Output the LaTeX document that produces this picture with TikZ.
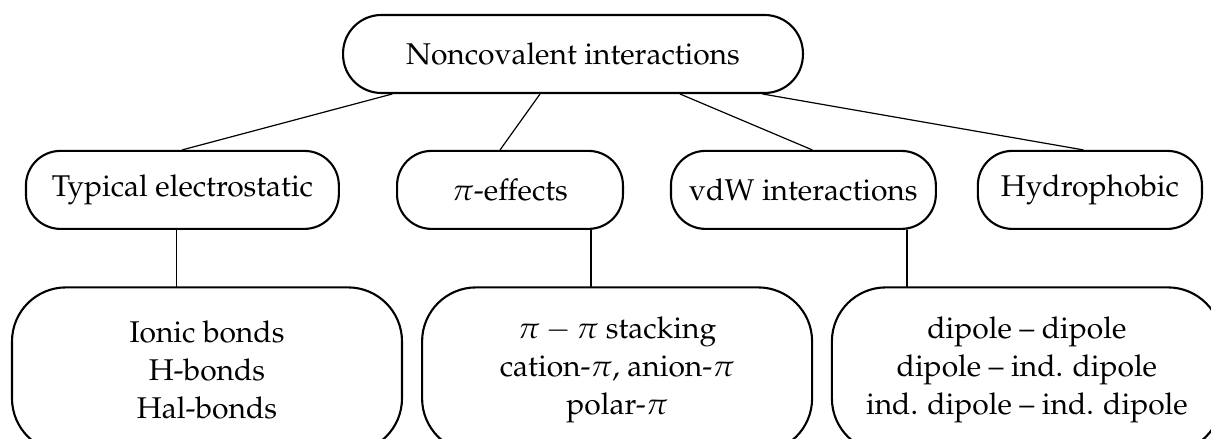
\documentclass[tikz,border=0pt]{standalone}
\usepackage[T1]{fontenc}
\usepackage{mathpazo}
\begin{document}
\begin{tikzpicture}[x=1pt, y=-1pt, line join=round, line cap=round,
		box/.style={draw, line width=0.7pt, rounded corners=11.5pt, minimum height=26pt, inner sep=0pt},
		bigbox/.style={draw, line width=0.7pt, rounded corners=18pt, minimum width=130pt, minimum height=55pt, inner sep=0pt, align=center, font=\fontsize{10}{12.8}\selectfont},
		link/.style={line width=0.4pt}]
			\useasboundingbox (0,0) rectangle (403.67,146.33);
			\clip (0,0) rectangle (403.67,146.33);
			% top
			\node[box, rounded corners=12.8pt, minimum width=153.3pt] (nci) at (191,18) {Noncovalent interactions};
			% middle row
			\node[box, minimum width=104.3pt] (elec) at (60.8,63.3) {Typical electrostatic};
			\node[box, minimum width=75.3pt] (pieff) at (170,63.3) {$\pi$-effects};
			\node[box, minimum width=88.3pt] (vdw) at (267.8,63.3) {vdW interactions};
			\node[box, minimum width=74.7pt] (hydro) at (363.3,63.3) {Hydrophobic};
			% bottom row
			\node[bigbox] (elecb) at (69,123.3) {Ionic bonds\\H-bonds\\Hal-bonds};
			\node[bigbox] (pib) at (205.7,123.3) {$\pi-\pi$ stacking\\cation-$\pi$, anion-$\pi$\\polar-$\pi$};
			\node[bigbox] (vdwb) at (342.3,123.3) {dipole -- dipole\\dipole -- ind. dipole\\ind. dipole -- ind. dipole};
			% connectors
			\draw[link] ([xshift=-60.3pt]nci.south) -- (elec.north);
			\draw[link] ([xshift=-11pt]nci.south) -- ([xshift=-3.3pt]pieff.north);
			\draw[link] ([xshift=35.7pt]nci.south) -- ([xshift=2.9pt]vdw.north);
			\draw[link] ([xshift=63.3pt]nci.south) -- ([xshift=-2.3pt]hydro.north);
			\draw[link] ([xshift=-10.3pt]elecb.north) -- ([xshift=-10.3pt]elecb.north |- elec.south);
			\draw[link] ([xshift=-8.7pt]pib.north) -- ([xshift=-8.7pt]pib.north |- pieff.south);
			\draw[link] ([xshift=-40pt]vdwb.north) -- ([xshift=-40pt]vdwb.north |- vdw.south);
		\end{tikzpicture}
\end{document}
